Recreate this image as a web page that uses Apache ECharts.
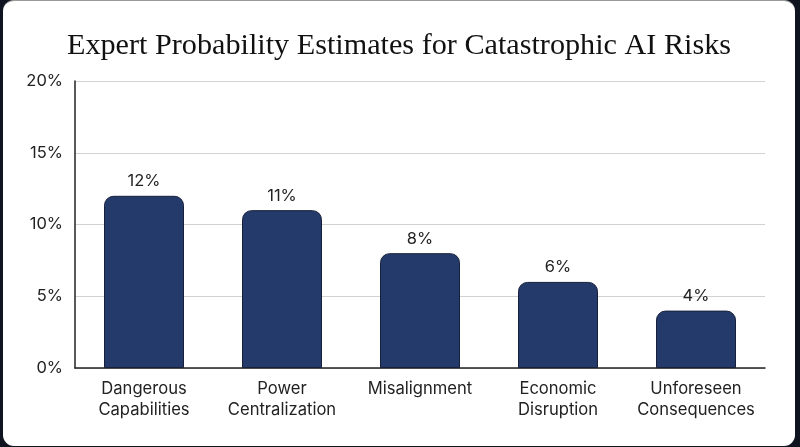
<!DOCTYPE html>
<html>
<head>
<meta charset="utf-8">
<script src="https://cdn.jsdelivr.net/npm/echarts@6/dist/echarts.min.js"></script>
<style>
  html, body { margin: 0; padding: 0; background: #0f1420; }
  #card { position: absolute; left: 3px; top: 0; width: 792px; height: 445px;
          background: #fff; border-radius: 11px; border-top: 1px solid #999; overflow: hidden; }
  #main { width: 792px; height: 445px; }
</style>
</head>
<body>
<div id="card"><div id="main"></div></div>
<script>
var myChart = echarts.init(document.getElementById('main'));

var categories = ['Dangerous\nCapabilities', 'Power\nCentralization', 'Misalignment', 'Economic\nDisruption', 'Unforeseen\nConsequences'];
var values = [12, 11, 8, 6, 4];
var yTicks = [0, 5, 10, 15, 20];

option =
{
    title:
    {
        text: 'Expert Probability Estimates for Catastrophic AI Risks',
        left: 'center',
        top: 25,
        textStyle:
        {
            fontFamily: 'Liberation Serif',
            fontWeight: 'normal',
            fontSize: 30.2,
            color: '#111'
        }
    },
    grid:
    {
        left: 72,
        right: 30,
        top: 80,
        bottom: 78
    },
    xAxis:
    {
        type: 'category',
        data: categories,
        axisLine: { lineStyle: { color: '#222', width: 1.5 } },
        axisTick: { show: false },
        axisLabel:
        {
            interval: 0,
            color: '#222',
            fontSize: 16.6,
            fontFamily: 'Inter',
            lineHeight: 21,
            margin: 10
        }
    },
    yAxis:
    {
        type: 'value',
        min: yTicks[0],
        max: yTicks[yTicks.length - 1],
        interval: 5,
        axisLine: { show: true, lineStyle: { color: '#222', width: 1.5 } },
        splitLine: { lineStyle: { color: '#d2d2d2' } },
        axisLabel:
        {
            formatter: '{value}%',
            color: '#222',
            fontSize: 16.5,
            fontFamily: 'Inter',
            margin: 12
        }
    },
    series:
    {
        type: 'bar',
        data: values,
        barWidth: 80,
        itemStyle:
        {
            color: '#243a6b',
            borderColor: '#16203a',
            borderWidth: 1,
            borderRadius: [9, 9, 0, 0]
        },
        label:
        {
            show: true,
            position: 'top',
            formatter: '{c}%',
            color: '#222',
            fontSize: 16.5,
            fontFamily: 'Inter',
            distance: 6
        }
    }
};

myChart.setOption(option);
</script>
</body>
</html>
